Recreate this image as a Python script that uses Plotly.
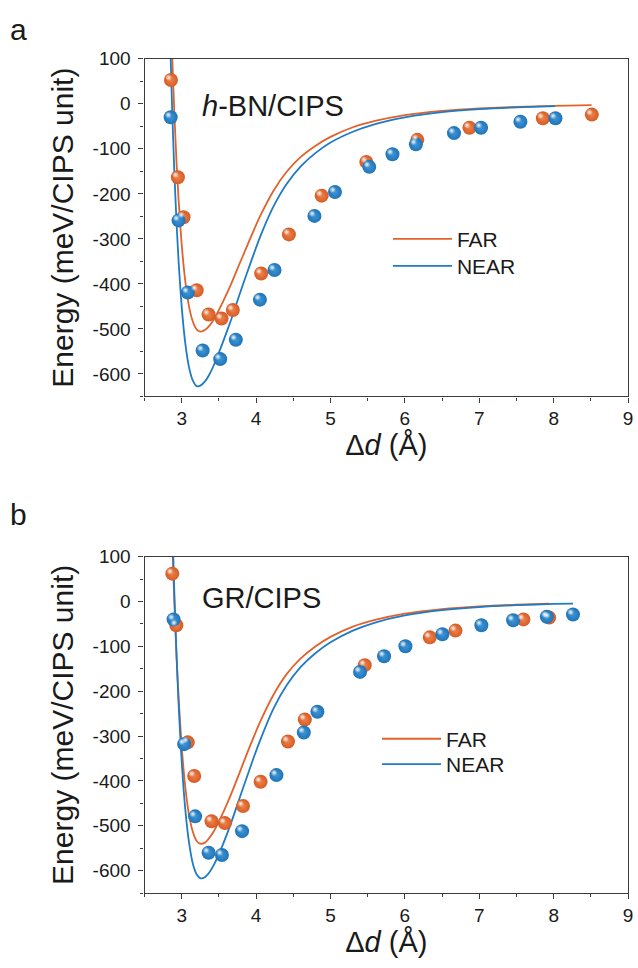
import plotly.graph_objects as go

# ---------------- Panel a: h-BN/CIPS ----------------
a_far_d = [2.855, 2.948, 3.024, 3.201, 3.361, 3.535, 3.687, 4.068, 4.441, 4.881,
           5.481, 6.167, 6.868, 7.855, 8.513]
a_far_e = [53, -163, -252, -414, -468, -477, -458, -377, -290, -204,
           -129, -80, -53, -32, -24]
a_near_d = [2.851, 2.957, 3.081, 3.281, 3.517, 3.727, 4.051, 4.247, 4.784, 5.060,
            5.521, 5.833, 6.148, 6.660, 7.024, 7.553, 8.024]
a_near_e = [-30, -259, -419, -548, -567, -524, -435, -369, -249, -196,
            -140, -112, -90, -65, -53, -40, -32]

# fitted binding curves, panel a
a_far_fit_d = [2.84, 2.87, 2.90, 2.93, 2.96, 3.00, 3.05, 3.10, 3.15, 3.20, 3.25,
               3.315, 3.375, 3.435, 3.55, 3.665, 3.77, 3.87, 3.965, 4.055, 4.23, 4.41,
               4.60, 4.80, 5.00, 5.30, 5.60, 6.00, 6.50, 7.00, 7.50, 8.00, 8.51]
a_far_fit_e = [279, 116, -19, -130, -220, -314, -397, -452, -484, -501, -506,
               -502, -492, -478, -441, -400, -358, -319, -282, -249, -194, -151,
               -118, -93, -73.5, -52, -38, -25, -15.7, -10.1, -6.7, -4.6, -3.1]
a_near_fit_d = [2.84, 2.87, 2.90, 2.93, 2.96, 3.00, 3.05, 3.10, 3.15, 3.20, 3.25,
                3.315, 3.375, 3.435, 3.55, 3.665, 3.77, 3.87, 3.965, 4.055, 4.23, 4.41,
                4.60, 4.80, 5.00, 5.30, 5.60, 6.00, 6.50, 7.00, 7.50, 8.02]
a_near_fit_e = [166, -7, -149, -264, -357, -452, -535, -587, -615, -627, -626,
                -616, -600, -579, -531, -479, -427, -379, -335, -295, -229, -178,
                -139, -109, -86, -62, -45, -30, -18.4, -11.8, -7.8, -5.3]

# ---------------- Panel b: GR/CIPS ----------------
b_far_d = [2.873, 2.927, 3.081, 3.167, 3.401, 3.580, 3.824, 4.060, 4.428, 4.655,
           5.460, 6.335, 6.680, 7.593, 7.940]
b_far_e = [62, -53, -314, -389, -490, -494, -456, -402, -312, -263,
           -142, -80, -65, -40, -36]
b_near_d = [2.890, 3.033, 3.180, 3.361, 3.540, 3.811, 4.273, 4.641, 4.824, 5.397,
            5.720, 6.007, 6.504, 7.028, 7.455, 7.908, 8.260]
b_near_e = [-40, -318, -479, -560, -565, -512, -387, -292, -246, -157,
            -122, -100, -73, -53, -42, -34, -29]

# fitted binding curves, panel b
b_far_fit_d = [2.84, 2.87, 2.90, 2.93, 2.96, 3.00, 3.05, 3.10, 3.15, 3.20, 3.25,
               3.315, 3.375, 3.435, 3.55, 3.665, 3.77, 3.87, 3.965, 4.055, 4.23, 4.41,
               4.60, 4.80, 5.00, 5.30, 5.60, 6.00, 6.50, 7.00, 7.50, 7.94]
b_far_fit_e = [327, 147, 0, -122, -221, -325, -417, -478, -514, -534, -540,
               -537, -526, -511, -473, -429, -385, -342, -303, -268, -209, -162,
               -127, -100, -79, -56, -41, -27, -16.9, -10.9, -7.2, -5.1]
b_near_fit_d = [2.84, 2.87, 2.90, 2.93, 2.96, 3.00, 3.05, 3.10, 3.15, 3.20, 3.25,
                3.315, 3.375, 3.435, 3.55, 3.665, 3.77, 3.87, 3.965, 4.055, 4.23, 4.41,
                4.60, 4.80, 5.00, 5.30, 5.60, 6.00, 6.50, 7.00, 7.50, 8.00, 8.26]
b_near_fit_e = [406, 196, 22, -120, -237, -359, -468, -540, -585, -608, -617,
                -614, -603, -586, -543, -493, -442, -394, -349, -309, -240, -187,
                -146, -115, -91, -65, -47, -31, -19.5, -12.5, -8.3, -5.6, -4.7]

x_ticks = [3, 4, 5, 6, 7, 8, 9]
y_ticks = [-600, -500, -400, -300, -200, -100, 0, 100]
X_RANGE = [2.5, 9.0]
Y_RANGE = [-650, 100]

ORANGE_LINE = "#E2622B"
BLUE_LINE = "#1F7BC4"
# sphere shading: rim colour, body colour, specular spot
ORANGE_RIM, ORANGE_BODY = "#D65B25", "#EE8149"
BLUE_RIM, BLUE_BODY = "#1F74B8", "#3D95D6"
SPOT = "rgba(255,255,255,0.95)"
SPOT_EDGE = "rgba(255,255,255,0)"

FONT = "Liberation Sans, Arial, Helvetica, sans-serif"
TXT = "#1a1a1a"
W, H = 638, 968

# plot-area pixel boxes (left, right, top, bottom)
PLOT_A = (145.7, 633.0, 49.3, 390.5)
PLOT_B = (145.7, 633.0, 552.3, 892.3)
SPOT_SHIFT = 2.4  # px up/left of the sphere centre


def px_x(v):
    return v / W


def px_y(v):
    return 1 - v / H


fig = go.Figure()

panels = [
    dict(xa="x", ya="y", hxa="x3", hya="y3", leg=("legend", "legend2"),
         far=(a_far_d, a_far_e), near=(a_near_d, a_near_e),
         far_fit=(a_far_fit_d, a_far_fit_e), near_fit=(a_near_fit_d, a_near_fit_e)),
    dict(xa="x2", ya="y2", hxa="x4", hya="y4", leg=("legend3", "legend4"),
         far=(b_far_d, b_far_e), near=(b_near_d, b_near_e),
         far_fit=(b_far_fit_d, b_far_fit_e), near_fit=(b_near_fit_d, b_near_fit_e)),
]

for p in panels:
    fig.add_trace(go.Scatter(
        x=p["far_fit"][0], y=p["far_fit"][1], mode="lines", name="FAR",
        line=dict(color=ORANGE_LINE, width=1.8, shape="spline", smoothing=0.6),
        xaxis=p["xa"], yaxis=p["ya"], legend=p["leg"][0]))
    fig.add_trace(go.Scatter(
        x=p["near_fit"][0], y=p["near_fit"][1], mode="lines", name="NEAR",
        line=dict(color=BLUE_LINE, width=1.8, shape="spline", smoothing=0.6),
        xaxis=p["xa"], yaxis=p["ya"], legend=p["leg"][1]))
    for (d, e), rim, body in ((p["far"], ORANGE_RIM, ORANGE_BODY),
                              (p["near"], BLUE_RIM, BLUE_BODY)):
        fig.add_trace(go.Scatter(
            x=d, y=e, mode="markers", showlegend=False, hoverinfo="skip",
            marker=dict(size=14, color=rim, line=dict(width=0),
                        gradient=dict(type="radial", color=body)),
            xaxis=p["xa"], yaxis=p["ya"]))
        # specular spot, drawn on a companion axis pair offset by a few pixels
        fig.add_trace(go.Scatter(
            x=d, y=e, mode="markers", showlegend=False, hoverinfo="skip",
            marker=dict(size=7, color=SPOT_EDGE, line=dict(width=0),
                        gradient=dict(type="radial", color=SPOT)),
            xaxis=p["hxa"], yaxis=p["hya"]))

AX_COLOR = "#3c3c3c"
common = dict(
    showline=True, linecolor=AX_COLOR, linewidth=1.3, mirror=True,
    ticks="outside", ticklen=5, tickwidth=1.2, tickcolor=AX_COLOR,
    showgrid=False, zeroline=False, ticklabeloverflow="allow",
    tickfont=dict(size=19, family=FONT, color=TXT),
    minor=dict(ticks="outside", ticklen=3, tickwidth=1.0, tickcolor=AX_COLOR,
               showgrid=False),
)

xcfg = dict(common, range=X_RANGE, tickvals=x_ticks, ticktext=[str(v) for v in x_ticks],
            minor=dict(common["minor"], dtick=0.5, tick0=2.5),
            title=dict(text="Δ<i>d</i> (Å)", font=dict(size=29, family=FONT, color=TXT),
                       standoff=5))
ycfg = dict(common, range=Y_RANGE, tickvals=y_ticks, ticktext=[str(v) for v in y_ticks],
            minor=dict(common["minor"], dtick=50, tick0=0), ticklabelstandoff=4,
            title=dict(text="Energy (meV/CIPS unit)",
                       font=dict(size=30, family=FONT, color=TXT), standoff=10))


def spot_axes(box, over_x, over_y):
    left, right, top, bottom = box
    kx = (right - left) / (X_RANGE[1] - X_RANGE[0])
    ky = (bottom - top) / (Y_RANGE[1] - Y_RANGE[0])
    dx = SPOT_SHIFT / kx
    dy = SPOT_SHIFT / ky
    hx = dict(visible=False, overlaying=over_x, domain=[px_x(left), px_x(right)],
              range=[X_RANGE[0] + dx, X_RANGE[1] + dx])
    hy = dict(visible=False, overlaying=over_y, domain=[px_y(bottom), px_y(top)],
              range=[Y_RANGE[0] - dy, Y_RANGE[1] - dy])
    return hx, hy


x3, y3 = spot_axes(PLOT_A, "x", "y")
x4, y4 = spot_axes(PLOT_B, "x2", "y2")
x3["anchor"], y3["anchor"] = "y3", "x3"
x4["anchor"], y4["anchor"] = "y4", "x4"


def legend_at(x_px, y_px):
    return dict(x=px_x(x_px), y=px_y(y_px), xanchor="left", yanchor="middle",
                bgcolor="rgba(0,0,0,0)", borderwidth=0, itemwidth=59,
                font=dict(size=21, family=FONT, color=TXT))


fig.update_layout(
    width=W, height=H,
    margin=dict(l=0, r=0, t=0, b=0),
    paper_bgcolor="white", plot_bgcolor="white",
    font=dict(family=FONT, color=TXT),
    showlegend=True,
    xaxis=dict(xcfg, domain=[px_x(PLOT_A[0]), px_x(PLOT_A[1])], anchor="y"),
    yaxis=dict(ycfg, domain=[px_y(PLOT_A[3]), px_y(PLOT_A[2])], anchor="x"),
    xaxis2=dict(xcfg, domain=[px_x(PLOT_B[0]), px_x(PLOT_B[1])], anchor="y2"),
    yaxis2=dict(ycfg, domain=[px_y(PLOT_B[3]), px_y(PLOT_B[2])], anchor="x2"),
    xaxis3=x3, yaxis3=y3, xaxis4=x4, yaxis4=y4,
    legend=legend_at(391, 231.7),
    legend2=legend_at(391, 259.0),
    legend3=legend_at(380, 736.7),
    legend4=legend_at(380, 762.3),
    annotations=[
        dict(text="a", x=px_x(8), y=px_y(20), xref="paper", yref="paper",
             xanchor="left", yanchor="middle", showarrow=False,
             font=dict(size=30, family=FONT, color=TXT)),
        dict(text="b", x=px_x(8), y=px_y(510), xref="paper", yref="paper",
             xanchor="left", yanchor="middle", showarrow=False,
             font=dict(size=30, family=FONT, color=TXT)),
        dict(text="<i>h</i>-BN/CIPS", x=px_x(202), y=px_y(97), xref="paper", yref="paper",
             xanchor="left", yanchor="middle", showarrow=False,
             font=dict(size=29, family=FONT, color=TXT)),
        dict(text="GR/CIPS", x=px_x(202), y=px_y(594), xref="paper", yref="paper",
             xanchor="left", yanchor="middle", showarrow=False,
             font=dict(size=29, family=FONT, color=TXT)),
    ],
)

fig.write_html("out.html")
